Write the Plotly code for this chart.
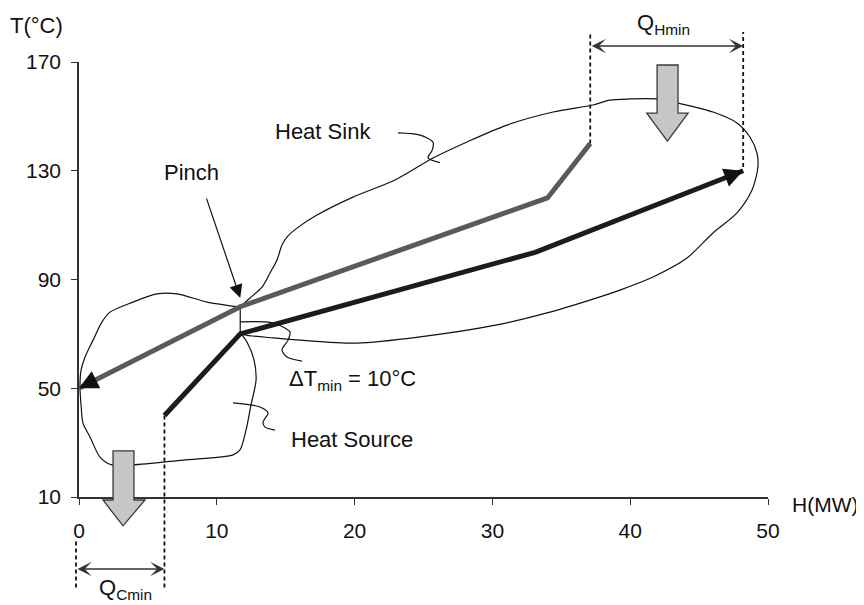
import plotly.graph_objects as go

# ---------------- data ----------------
X_RANGE = [0, 50]
Y_RANGE = [10, 170]
x_ticks = [0, 10, 20, 30, 40, 50]
y_ticks = [10, 50, 90, 130, 170]

# hot composite curve (heat released), drawn from high T to low T
hot_h = [37.1, 34.0, 11.7, 0.0]
hot_t = [140, 120, 80, 50]
# cold composite curve (heat absorbed)
cold_h = [6.2, 11.7, 33.1, 48.2]
cold_t = [40, 70, 100, 130]

pinch_h = 11.7
pinch_hot_t = 80
pinch_cold_t = 70

# hand-drawn region outlines (H, T)
sink_h = [11.68, 12.41, 13.28, 13.86, 14.37, 14.73, 15.09, 15.82, 17.27, 19.88, 22.93, 25.69,
          28.16, 31.06, 34.40, 37.30, 38.53, 39.99, 41.94, 43.47, 46.01, 47.75, 48.69, 49.20,
          49.27, 48.84, 47.75, 46.01, 44.12, 41.65, 39.26, 37.30, 33.96, 30.33, 24.75, 20.17,
          16.04, 14.08, 12.05, 11.68]
sink_t = [79.9, 83.2, 87.2, 92.4, 97.2, 102.7, 105.6, 108.9, 113.7, 120.3, 126.6, 134.7,
          140.6, 146.8, 151.6, 154.2, 156.0, 156.4, 156.4, 154.9, 151.6, 147.6, 142.4, 136.5,
          131.4, 122.9, 114.5, 107.1, 97.9, 90.9, 86.1, 82.8, 77.7, 73.3, 68.9, 66.6,
          67.7, 68.5, 69.6, 70.3]
source_h = [11.68, 9.29, 7.11, 5.66, 3.92, 2.25, 1.67, 1.02, 0.44, 0.15, 0.07, 0.15, 0.29,
            0.80, 1.52, 2.39, 3.92, 7.55, 11.18, 11.68, 12.12, 12.48, 12.85, 12.70, 12.19, 11.76]
source_t = [79.9, 81.7, 84.7, 84.7, 81.7, 78.0, 74.4, 67.7, 61.5, 56.7, 50.5, 43.8, 37.2,
            32.1, 24.7, 21.8, 21.8, 23.6, 25.5, 27.3, 34.6, 43.8, 53.0, 60.4, 67.0, 70.0]

# label leader squiggles (H, T)
sink_lead_h = [23.15, 24.75, 25.69, 25.62, 25.33, 26.20]
sink_lead_t = [143.9, 143.1, 140.5, 137.4, 134.8, 133.0]
dt_lead_h = [11.68, 14.08, 15.31, 15.17, 14.73, 15.09, 16.18]
dt_lead_t = [74.4, 74.0, 70.7, 67.7, 64.1, 61.5, 60.0]
src_lead_h = [11.18, 13.13, 13.72, 13.35, 13.50, 14.22]
src_lead_t = [44.6, 43.1, 40.9, 37.6, 35.7, 34.6]

# utility targets
qh_left, qh_right = hot_h[0], cold_h[-1]
qc_left, qc_right = -0.22, cold_h[0]

FONT = "Liberation Sans, Arial, sans-serif"


def dx(h):
    return (h - X_RANGE[0]) / (X_RANGE[1] - X_RANGE[0])


def dy(t):
    return (t - Y_RANGE[0]) / (Y_RANGE[1] - Y_RANGE[0])


fig = go.Figure()

thin = dict(color="#111", width=1.2)
for hh, tt in [(sink_h, sink_t), (source_h, source_t), (sink_lead_h, sink_lead_t),
               (dt_lead_h, dt_lead_t), (src_lead_h, src_lead_t)]:
    fig.add_trace(go.Scatter(x=hh, y=tt, mode="lines", line=dict(shape="spline", smoothing=0.8, **thin),
                             hoverinfo="skip", showlegend=False))
# pinch vertical marker (delta T min)
fig.add_trace(go.Scatter(x=[pinch_h, pinch_h], y=[pinch_cold_t - 1, pinch_hot_t + 1], mode="lines",
                         line=thin, hoverinfo="skip", showlegend=False))

fig.add_trace(go.Scatter(x=hot_h, y=hot_t, mode="lines", line=dict(color="#5a5a5a", width=5),
                         hoverinfo="skip", showlegend=False))
fig.add_trace(go.Scatter(x=cold_h, y=cold_t, mode="lines", line=dict(color="#1c1c1c", width=5),
                         hoverinfo="skip", showlegend=False))

ann = []
# arrowheads at curve ends
for hh, tt in [(hot_h, hot_t), (cold_h, cold_t)]:
    f = 0.1
    ann.append(dict(x=hh[-1], y=tt[-1], ax=hh[-1] + f * (hh[-2] - hh[-1]), ay=tt[-1] + f * (tt[-2] - tt[-1]),
                    xref="x", yref="y", axref="x", ayref="y", text="", showarrow=True,
                    arrowhead=2, arrowsize=3.8, arrowwidth=1, arrowcolor="#111", standoff=0))

# pinch arrow
ann.append(dict(x=pinch_h, y=83.2, ax=9.22, ay=120.3, xref="x", yref="y", axref="x", ayref="y",
                text="", showarrow=True, arrowhead=2, arrowsize=2.2, arrowwidth=1.2, arrowcolor="#111"))

# Q arrows (double headed)
for (l, r, t) in [(qh_left, qh_right, 175.9), (qc_left, qc_right, -16.5)]:
    ann.append(dict(x=dx(r), y=dy(t), ax=dx(l), ay=dy(t), xref="x domain", yref="y domain",
                    axref="x domain", ayref="y domain", text="", showarrow=True,
                    arrowhead=3, startarrowhead=3, arrowside="end+start", arrowsize=1.6,
                    startarrowsize=1.6, arrowwidth=1.5, arrowcolor="#333", standoff=0, startstandoff=0))

tf = dict(family=FONT, size=22, color="#111")
texts = [
    ("Heat Sink", dx(21.3), dy(144.6), "right", 22),
    ("Pinch", dx(8.2), dy(129.5), "center", 22),
    ("ΔT<sub>min</sub> = 10°C", dx(15.09), dy(53.0), "left", 22),
    ("Heat Source", dx(15.24), dy(31.0), "left", 22),
    ("Q<sub>Hmin</sub>", dx(42.4), dy(184.0), "center", 22),
    ("Q<sub>Cmin</sub>", dx(3.4), dy(-24.0), "center", 22),
    ("T(°C)", dx(-3.12), dy(183.6), "center", 22),
    ("H(MW)", dx(56.7), dy(7.06), "right", 21),
]
for txt, x, y, xa, fs in texts:
    ann.append(dict(x=x, y=y, xref="x domain", yref="y domain", text=txt, showarrow=False,
                    xanchor=xa, yanchor="middle", font=dict(family=FONT, size=fs, color="#111")))

shapes = []
dash = dict(color="#111", width=1.8, dash="4px,3px")
for (h, t0, t1) in [(qh_left, hot_t[0], 181), (qh_right, 131.4, 181),
                    (qc_left, -6.4, -23.5), (qc_right, cold_t[0], -23.5)]:
    shapes.append(dict(type="line", xref="x domain", yref="y domain", x0=dx(h), x1=dx(h),
                       y0=dy(t0), y1=dy(t1), line=dash, layer="above"))


def block_arrow(h_shaft0, h_shaft1, h_head0, h_head1, h_tip, t_top, t_head, t_tip):
    pts = [(h_shaft0, t_top), (h_shaft1, t_top), (h_shaft1, t_head), (h_head1, t_head),
           (h_tip, t_tip), (h_head0, t_head), (h_shaft0, t_head)]
    p = "M " + " L ".join(f"{dx(a):.5f},{dy(b):.5f}" for a, b in pts) + " Z"
    return dict(type="path", path=p, xref="x domain", yref="y domain", fillcolor="#c6c6c6",
                line=dict(color="#3a3a3a", width=1.3), layer="above")


shapes.append(block_arrow(41.95, 43.47, 41.2, 44.2, 42.7, 168.9, 151.2, 140.9))
shapes.append(block_arrow(2.47, 3.99, 1.74, 4.79, 3.19, 27.0, 8.9, -0.6))

axis_common = dict(showgrid=False, zeroline=False, showline=True, linecolor="#333", linewidth=1.5,
                   ticks="outside", ticklen=6, tickwidth=1.3, tickcolor="#333",
                   tickfont=dict(family=FONT, size=21, color="#111"))

fig.update_layout(
    width=856, height=597,
    margin=dict(l=71, r=96, t=54, b=108),
    paper_bgcolor="white", plot_bgcolor="white",
    xaxis=dict(range=X_RANGE, tickvals=x_ticks, ticklabelstandoff=8, **axis_common),
    yaxis=dict(range=Y_RANGE, tickvals=y_ticks, ticklabelstandoff=6, **axis_common),
    annotations=ann, shapes=shapes, showlegend=False,
)

fig.write_html("out.html")
